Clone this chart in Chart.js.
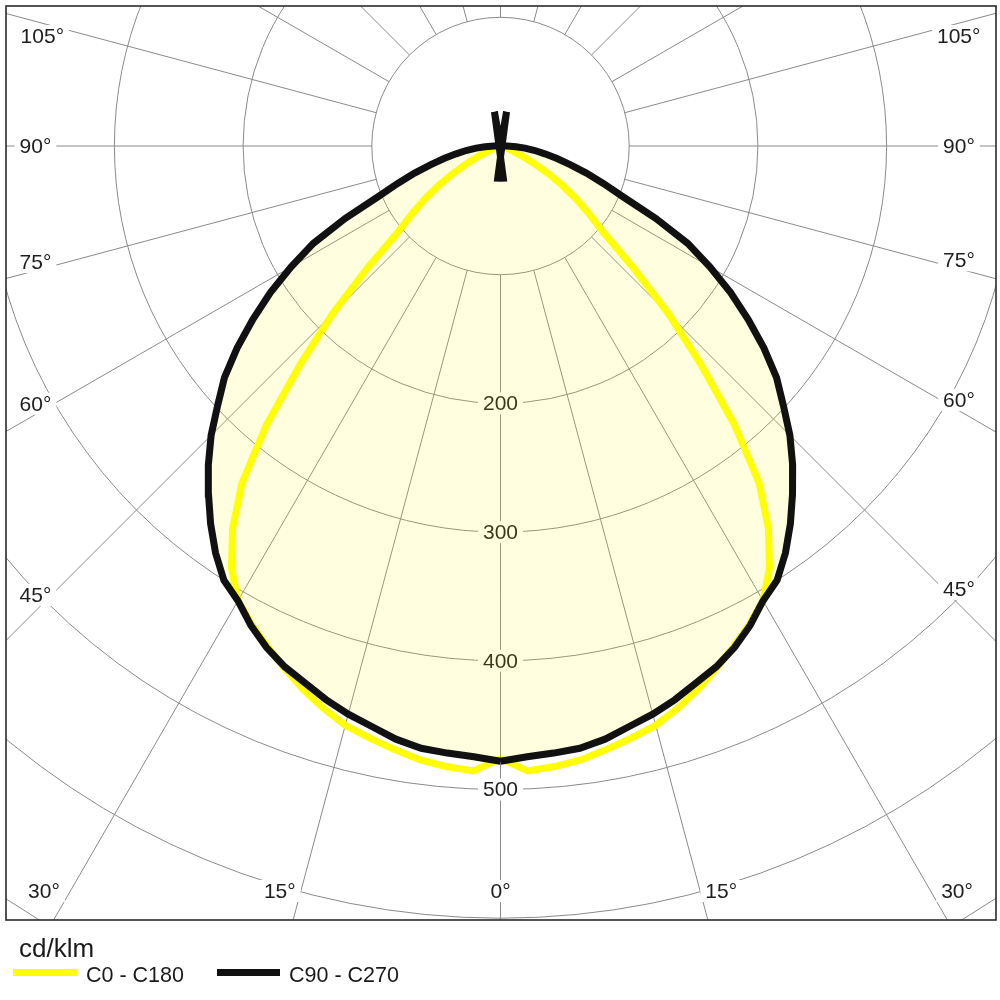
<!DOCTYPE html>
<html><head><meta charset="utf-8">
<script src="https://cdn.jsdelivr.net/npm/chart.js@4.4.0/dist/chart.umd.min.js"></script>
<style>
html,body{margin:0;padding:0;background:#fff;}
#wrap{position:relative;width:1000px;height:1000px;overflow:hidden;}
#c{position:absolute;left:0;top:0;}
.lg{position:absolute;font-family:"Liberation Sans",Arial,sans-serif;color:#1a1a1a;white-space:nowrap;}
.sw{position:absolute;height:7px;}
</style></head><body>
<div id="wrap"><canvas id="c" width="1000" height="1000"></canvas><div id="legend"></div></div>
<script>
// ---- data (cd/klm) ----
const ANGLES = [0,2.5,5,7.5,10,12.5,15,17.5,20,22.5,25,27.5,30,32.5,35,37.5,40,42.5,45,47.5,50,52.5,55,57.5,60,62.5,65,67.5,70,72.5,75,77.5,80,82.5,85,87.5,90,
  95,100,105,110,115,120,125,130,135,140,145,150,155,160,165,170,175,180];
const C0_C180 = [476,486,484,481,476,471,466,458,449,439,429,419,408,389,363,330,283,231,185,140,104,87,72,57,43,29,19,11,6,3,2,1,0,0,0,0,0,
  0,0,0,0,0,0,0,0,0,0,0,0,0,0,0,0,0,0];
const C90_C270 = [478,475,473.5,472,468,462,457,451,444,438,430,420,408,400,386,370,353,336,318,298,280,258,235,212,188,164,133,103,85,70,56,45,35,27,19,12,5,
  0,0,0,0,0,0,0,0,0,0,0,0,0,0,0,27,-25,-25];
const SERIES_LABELS = ['C0 - C180','C90 - C270'];
const SERIES_COLORS = ['#ffff00','#111111'];
const RING_VALUES = [100,200,300,400,500,600,700];
const RING_LABELS = [200,300,400,500];
const SPOKE_ANGLES = [0,15,30,45,60,75,90,105,120,135,150,165,180,195,210,225,240,255,270,285,300,315,330,345];
const ANGLE_LABELS = [0,15,30,45,60,75,90,105];
const UNIT_LABEL = 'cd/klm';

// ---- layout ----
const PAD = {left:6, right:4, top:6, bottom:80};
const CX = 500.5, CY = 146, PX_PER_UNIT = 1.287, W = 1000, H = 1000;
const xMin = -(CX - PAD.left)/PX_PER_UNIT, xMax = (W - PAD.right - CX)/PX_PER_UNIT;
const yMax = (CY - PAD.top)/PX_PER_UNIT, yMin = -(H - PAD.bottom - CY)/PX_PER_UNIT;
const FONT = '"Liberation Sans", Arial, sans-serif';

function toPoints(vals){
  const pts = [];
  for (let i=0;i<ANGLES.length;i++){ const t=ANGLES[i]*Math.PI/180; pts.push({x:-vals[i]*Math.sin(t), y:-vals[i]*Math.cos(t)}); }
  for (let i=ANGLES.length-1;i>=0;i--){ const t=ANGLES[i]*Math.PI/180; pts.push({x:vals[i]*Math.sin(t), y:-vals[i]*Math.cos(t)}); }
  return pts;
}

const polarGrid = {
  id:'polarGrid',
  beforeDatasetsDraw(chart){
    const {ctx, chartArea:a, scales:{x, y}} = chart;
    const cx = x.getPixelForValue(0), cy = y.getPixelForValue(0);
    const P = (r,g,side)=>{ const t=g*Math.PI/180; return [x.getPixelForValue(side*r*Math.sin(t)), y.getPixelForValue(-r*Math.cos(t))]; };
    ctx.save();
    ctx.beginPath(); ctx.rect(a.left,a.top,a.right-a.left,a.bottom-a.top); ctx.clip();
    ctx.strokeStyle = '#8a8a8a'; ctx.lineWidth = 1;
    RING_VALUES.forEach(v=>{ const r = x.getPixelForValue(v)-cx; ctx.beginPath(); ctx.arc(cx,cy,r,0,Math.PI*2); ctx.stroke(); });
    SPOKE_ANGLES.forEach(g=>{
      const p0 = P(RING_VALUES[0], g, 1), p1 = P(1500, g, 1);
      ctx.beginPath(); ctx.moveTo(p0[0],p0[1]); ctx.lineTo(p1[0],p1[1]); ctx.stroke();
    });
    ctx.font = '21px ' + FONT; ctx.textAlign='center'; ctx.textBaseline='middle';
    const box = (txt,px,py)=>{
      const w = ctx.measureText(txt).width;
      ctx.fillStyle='#ffffff'; ctx.fillRect(px-w/2-5, py-11, w+10, 22);
      ctx.fillStyle='#1e1e1e'; ctx.fillText(txt, px, py+1);
    };
    // radial value labels on 0° axis
    RING_LABELS.forEach(v=>{ const p = P(v,0,1); box(String(v), p[0], p[1]); });
    // angle labels at inset frame
    const inL = a.left+29.5, inR = a.right-37, inT = a.top+30, inB = a.bottom-29;
    const hit = (ga, side)=>{
      const t = ga*Math.PI/180, dx = side*Math.sin(t), dy = Math.cos(t);
      let best = Infinity, edge = '';
      if (dx<0 && (inL-cx)/dx < best){ best=(inL-cx)/dx; edge='side'; }
      if (dx>0 && (inR-cx)/dx < best){ best=(inR-cx)/dx; edge='side'; }
      if (dy>0 && (inB-cy)/dy < best){ best=(inB-cy)/dy; edge='bottom'; }
      if (dy<0 && (inT-cy)/dy < best){ best=(inT-cy)/dy; edge='top'; }
      return {px:cx+dx*best, py:cy+dy*best, edge};
    };
    ANGLE_LABELS.forEach(g=>{
      [-1,1].forEach(side=>{
        if (g===0 && side===1) return;
        let ga = g; if (g>0 && g<90) ga = g+1.5; else if (g>90) ga = g-1.5;
        let h = hit(ga, side);
        if (h.edge==='side' && g>0 && g<90) h = hit(g+1.0, side);
        box(g+'°', h.px, h.py);
      });
    });
    // light fill inside the C90-C270 curve
    const meta = chart.getDatasetMeta(1);
    ctx.beginPath();
    meta.data.forEach((el,i)=>{ if(i===0) ctx.moveTo(el.x,el.y); else ctx.lineTo(el.x,el.y); });
    ctx.closePath();
    ctx.fillStyle = 'rgba(255,255,0,0.12)'; ctx.fill();
    ctx.restore();
  },
  afterDraw(chart){
    const {ctx, chartArea:a} = chart;
    ctx.save(); ctx.strokeStyle='#2a2a2a'; ctx.lineWidth=1.6;
    ctx.strokeRect(a.left, a.top, a.right-a.left, a.bottom-a.top);
    ctx.restore();
  }
};

new Chart(document.getElementById('c'), {
  type:'scatter',
  data:{ datasets:[
    {label:SERIES_LABELS[0], data:toPoints(C0_C180), showLine:true, borderColor:SERIES_COLORS[0], borderWidth:7, pointRadius:0, tension:0, fill:false, order:1, borderJoinStyle:'miter'},
    {label:SERIES_LABELS[1], data:toPoints(C90_C270), showLine:true, borderColor:SERIES_COLORS[1], borderWidth:7, pointRadius:0, tension:0, fill:false, order:0, borderJoinStyle:'miter'}
  ]},
  options:{
    responsive:false, animation:false, devicePixelRatio:1,
    layout:{padding:PAD},
    plugins:{legend:{display:false}, tooltip:{enabled:false}},
    scales:{
      x:{type:'linear', min:xMin, max:xMax, display:false},
      y:{type:'linear', min:yMin, max:yMax, display:false}
    }
  },
  plugins:[polarGrid]
});

// ---- HTML legend ----
const lg = document.getElementById('legend');
lg.innerHTML = '<div class="lg" style="left:19px;top:935px;font-size:26px;line-height:26px;">'+UNIT_LABEL+'</div>' +
  '<div class="sw" style="left:13px;top:969px;width:64px;background:'+SERIES_COLORS[0]+'"></div>' +
  '<div class="lg" style="left:86px;top:964px;font-size:21.5px;line-height:22px;">'+SERIES_LABELS[0]+'</div>' +
  '<div class="sw" style="left:217px;top:969px;width:63px;background:'+SERIES_COLORS[1]+'"></div>' +
  '<div class="lg" style="left:289px;top:964px;font-size:21.5px;line-height:22px;">'+SERIES_LABELS[1]+'</div>';
</script>
</body></html>
